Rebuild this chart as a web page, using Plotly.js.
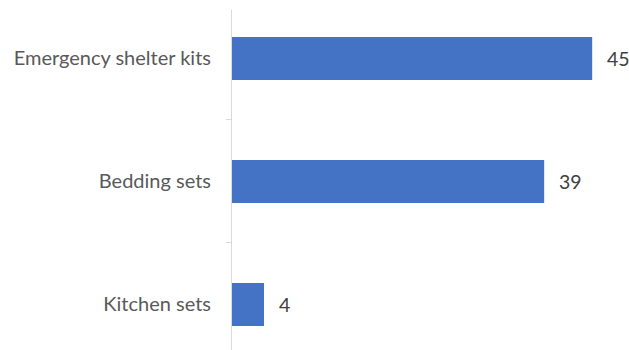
<!DOCTYPE html>
<html>
<head>
<meta charset="utf-8">
<script src="https://cdn.plot.ly/plotly-3.0.1.min.js"></script>
<style>html,body{margin:0;padding:0;background:#fff;}#chart{width:629px;height:350px;}</style>
</head>
<body>
<div id="chart"></div>
<script>
const categories = ["Emergency shelter kits", "Bedding sets", "Kitchen sets"];
const values = [45, 39, 4];
const valueLabels = ["45", "39", "4"];

const trace = {
  type: "bar",
  orientation: "h",
  y: categories,
  x: values,
  marker: {color: "#4472C4"},
  width: 0.35,
  hoverinfo: "none"
};

const annotations = categories.map((c, i) => ({
  x: values[i], y: c, xref: "x", yref: "y",
  text: valueLabels[i], showarrow: false,
  xanchor: "left", xshift: 13,
  font: {family: "Lato, 'Open Sans', sans-serif", size: 19.5, color: "#404040"}
}));

const layout = {
  width: 629, height: 350,
  margin: {l: 232, r: 0, t: 10, b: 0},
  paper_bgcolor: "#fff", plot_bgcolor: "#fff",
  showlegend: false,
  xaxis: {range: [0, 49.6], visible: false, fixedrange: true},
  yaxis: {
    type: "category",
    categoryorder: "array", categoryarray: categories,
    range: [2.37, -0.394],
    showline: true, linecolor: "#d9d9d9", linewidth: 1,
    ticks: "outside", tickson: "boundaries", ticklen: 5, tickcolor: "#d9d9d9",
    ticklabelstandoff: 16,
    showgrid: false, zeroline: false,
    tickfont: {family: "Lato, 'Open Sans', sans-serif", size: 20, color: "#595959"}
  },
  annotations: annotations
};

Plotly.newPlot("chart", [trace], layout, {displayModeBar: false, staticPlot: true});
</script>
</body>
</html>
